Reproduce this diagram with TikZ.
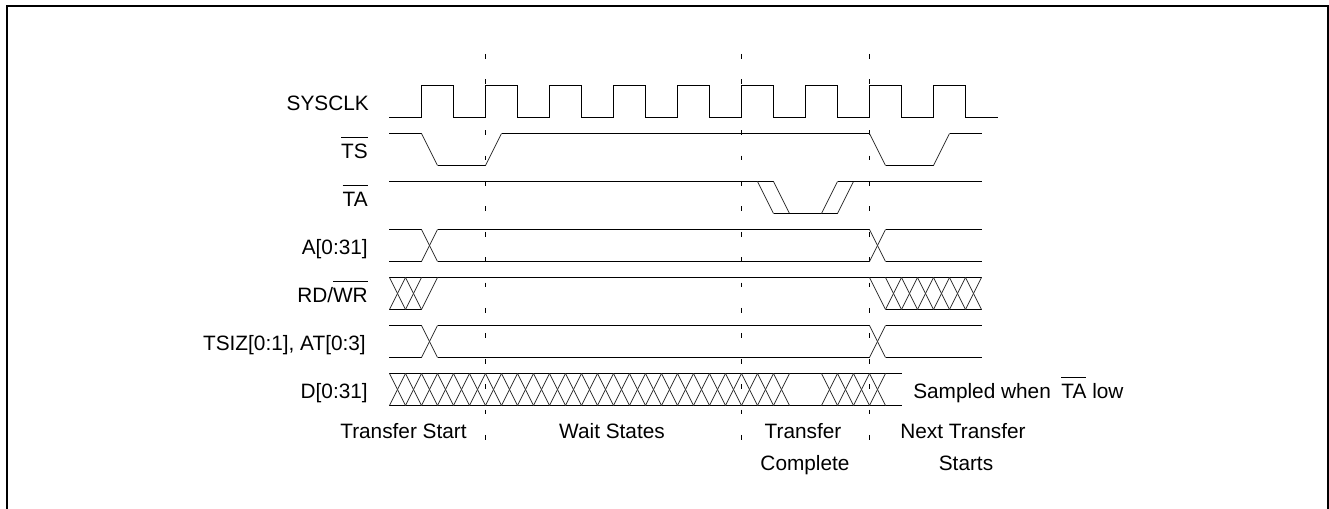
\documentclass[tikz,border=0pt]{standalone}
\usepackage{fontspec}
\setmainfont{Liberation Sans}
\newcommand{\barred}[1]{$\overline{\rule{0pt}{15.2pt}\hbox{#1}}$}
\newcommand{\xing}[2]{\draw[slope] (#1,#2) -- ++(16,32); \draw[slope] (#1,#2+32) -- ++(16,-32);}
\begin{document}
\begin{tikzpicture}[x=0.75pt,y=-0.75pt,
    every node/.style={font=\fontsize{15.6}{18}\selectfont,inner sep=0pt},
    sig/.style={anchor=base east},
    phase/.style={anchor=base},
    wave/.style={line width=0.75pt,line join=miter},
    slope/.style={line width=0.6pt,black!80},
    marker/.style={line width=0.75pt,dash pattern=on 3.6pt off 15.45pt}]
  \useasboundingbox (0,0) rectangle (1329,509);
  \draw[line width=1.5pt] (7,509) -- (7,6) -- (1328,6) -- (1328,509);
  % signal names
  \node[sig] (sysclk) at (369,111) {SYSCLK};
  \node[sig] (ts) at (368,159) {\barred{TS}};
  \node[sig] (ta) at (368,207) {\barred{TA}};
  \node[sig] (addr) at (368,255) {A[0:31]};
  \node[sig] (rdwr) at (368,303) {RD/\barred{WR}};
  \node[sig] (tsiz) at (366,351) {TSIZ[0:1], AT[0:3]};
  \node[sig] (data) at (368,399) {D[0:31]};
  % phase names
  \node[phase] (start) at (403.5,439) {Transfer Start};
  \node[phase] (wait) at (612,439) {Wait States};
  \node[phase] (done) at (803,439) {Transfer};
  \node[phase] (done2) at (805,471) {Complete};
  \node[phase] (next) at (963,439) {Next Transfer};
  \node[phase] (next2) at (966,471) {Starts};
  \node[anchor=base west] (sampled) at (913,399) {Sampled when\hspace{3.6pt} \barred{TA} low};
  % phase boundaries
  \foreach \x in {485.5,741.5,869.5} {
    \draw[marker] (\x,54) -- (\x,440);
  }
  % SYSCLK
  \draw[wave] (389,117.5) -- (421.5,117.5);
  \foreach \x in {421.5,485.5,...,933.5} {
    \draw[wave] (\x,117.5) -- (\x,85.5) -- (\x+32,85.5) -- (\x+32,117.5) -- (\x+64,117.5);
  }
  \draw[wave] (965.5,117.5) -- (998,117.5);
  % TS
  \draw[wave] (389,133.5) -- (421.5,133.5);
  \draw[slope] (421.5,133.5) -- (437.5,165.5);
  \draw[wave] (437.5,165.5) -- (485.5,165.5);
  \draw[slope] (485.5,165.5) -- (501.5,133.5);
  \draw[wave] (501.5,133.5) -- (869.5,133.5);
  \draw[slope] (869.5,133.5) -- (885.5,165.5);
  \draw[wave] (885.5,165.5) -- (933.5,165.5);
  \draw[slope] (933.5,165.5) -- (949.5,133.5);
  \draw[wave] (949.5,133.5) -- (982,133.5);
  % TA
  \draw[wave] (389,181.5) -- (773.5,181.5);
  \draw[slope] (757.5,181.5) -- (773.5,213.5);
  \draw[slope] (773.5,181.5) -- (789.5,213.5);
  \draw[wave] (773.5,213.5) -- (837.5,213.5);
  \draw[slope] (821.5,213.5) -- (837.5,181.5);
  \draw[slope] (837.5,213.5) -- (853.5,181.5);
  \draw[wave] (837.5,181.5) -- (982,181.5);
  % A and TSIZ
  \foreach \y in {229.5,325.5} {
    \draw[wave] (389,\y) -- (421.5,\y) (437.5,\y) -- (869.5,\y) (885.5,\y) -- (982,\y);
    \draw[wave] (389,\y+32) -- (421.5,\y+32) (437.5,\y+32) -- (869.5,\y+32) (885.5,\y+32) -- (982,\y+32);
    \xing{421.5}{\y}
    \xing{869.5}{\y}
  }
  % RD/WR
  \draw[wave] (389,277.5) -- (982,277.5);
  \draw[wave] (389,309.5) -- (421.5,309.5) (885.5,309.5) -- (982,309.5);
  \foreach \x in {389.5,405.5} {
    \xing{\x}{277.5}
  }
  \draw[slope] (421.5,309.5) -- (437.5,277.5);
  \draw[slope] (869.5,277.5) -- (885.5,309.5);
  \foreach \x in {885.5,901.5,...,965.5} {
    \xing{\x}{277.5}
  }
  % D
  \draw[wave] (389,373.5) -- (901.5,373.5) (389,405.5) -- (901.5,405.5);
  \foreach \x in {389.5,405.5,...,773.5} {
    \xing{\x}{373.5}
  }
  \foreach \x in {821.5,837.5,853.5,869.5} {
    \xing{\x}{373.5}
  }
\end{tikzpicture}
\end{document}
